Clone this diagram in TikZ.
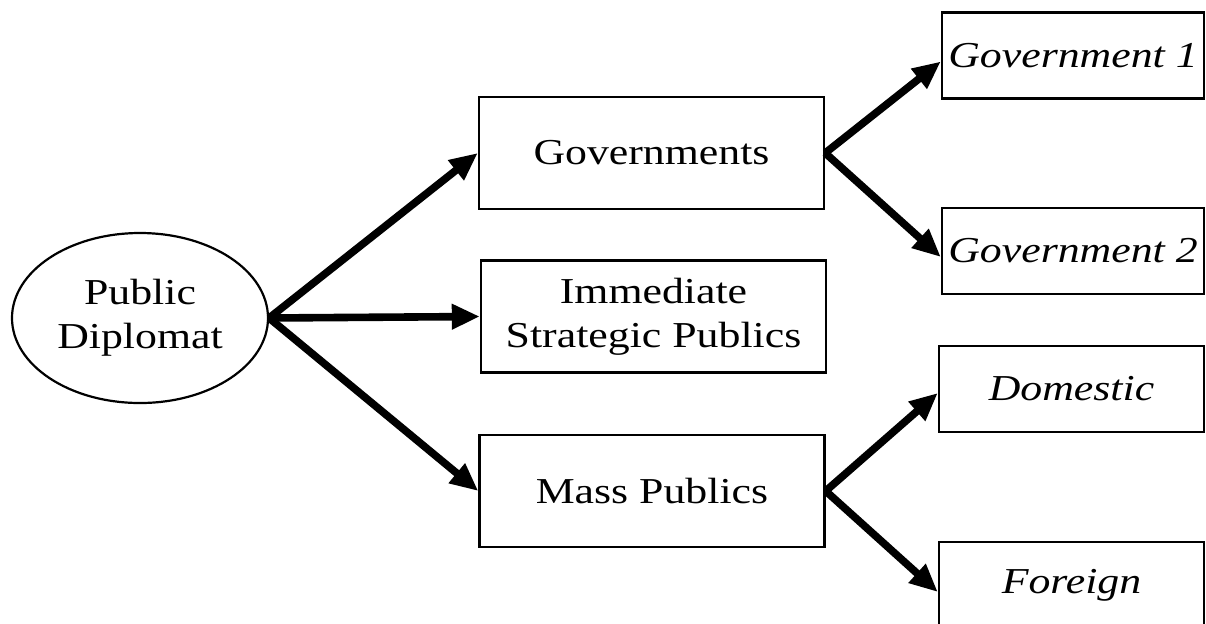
\documentclass[tikz,border=0pt]{standalone}
\usepackage{fontspec}
\setmainfont{Liberation Serif}[FakeStretch=1.2]
\usetikzlibrary{arrows.meta,shapes.geometric,calc}

\begin{document}
\begin{tikzpicture}[x=0.5pt,y=-0.5pt,
  txt/.style={align=center,font=\fontsize{18.25}{22}\selectfont},
  box/.style={txt,draw,line width=1.2pt,rectangle,inner sep=0pt},
  midbox/.style={box,minimum width=172.5pt,minimum height=56pt},
  leaf/.style={box,font=\fontsize{18.25}{22}\selectfont\itshape,minimum width=131pt,minimum height=43pt},
  link/.style={line width=3.8pt,-{Triangle[length=14pt,width=12pt]}}
]
\useasboundingbox (0,0) rectangle (1206,623);
\clip (0,0) rectangle (1206,623);

% root
\node[txt,ellipse,draw,line width=1.1pt,minimum width=128pt,minimum height=85pt,inner sep=0pt]
  (pd) at (140,318) {Public\\Diplomat};

% middle column
\node[midbox] (gov)  at (651.5,153)   {Governments};
\node[midbox] (imm)  at (653.5,316.5) {Immediate\\Strategic Publics};
\node[midbox] (mass) at (652,491)     {Mass Publics};

% right column
\node[leaf] (g1)  at (1073,55.5)  {Government 1};
\node[leaf] (g2)  at (1073,251)   {Government 2};
\node[leaf,minimum width=132.5pt] (dom) at (1071.5,389) {Domestic};
\node[leaf,minimum width=132.5pt] (for) at (1071.5,585) {Foreign};

% connectors
\draw[link] (pd.east) -- (gov.west);
\draw[link] (pd.east) -- (imm.west);
\draw[link] (pd.east) -- (mass.west);
\draw[link] (gov.east) -- ($(g1.west)+(0,6)$);
\draw[link] (gov.east) -- ($(g2.west)+(0,6)$);
\draw[link] (mass.east) -- ($(dom.west)+(0,4)$);
\draw[link] (mass.east) -- ($(for.west)+(0,7)$);
\end{tikzpicture}
\end{document}
